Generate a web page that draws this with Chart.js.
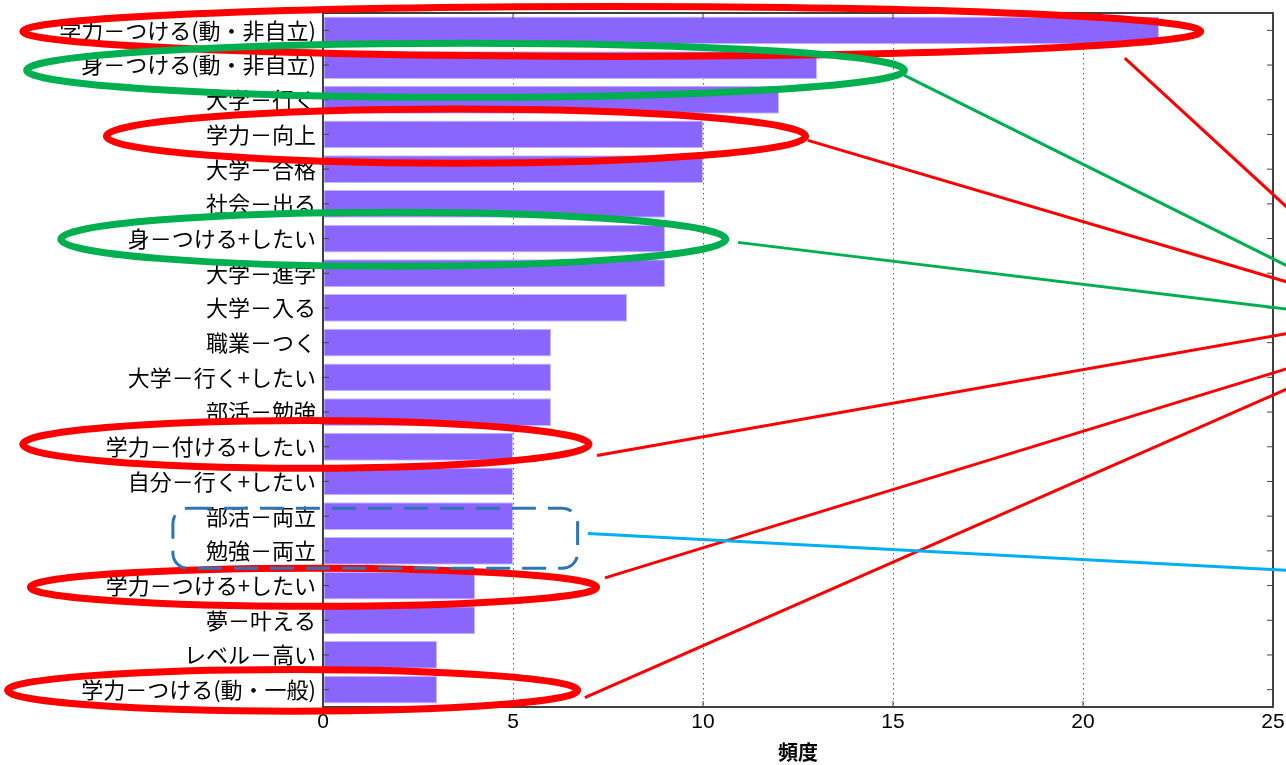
<!DOCTYPE html>
<html>
<head>
    <title>頻度</title>
    <script src="https://cdn.jsdelivr.net/npm/chart.js@4.4.0/dist/chart.umd.min.js"></script>
    <style>
        body {
            margin: 0;
            background-color: white;
        }
        #wrap {
            width: 1286px;
            height: 765px;
        }
    </style>
</head>
<body>
    <div id="wrap">
        <canvas id="freqChart" width="1286" height="765"></canvas>
    </div>

    <script>
        const labels = [
            '学力－つける(動・非自立)',
            '身－つける(動・非自立)',
            '大学－行く',
            '学力－向上',
            '大学－合格',
            '社会－出る',
            '身－つける+したい',
            '大学－進学',
            '大学－入る',
            '職業－つく',
            '大学－行く+したい',
            '部活－勉強',
            '学力－付ける+したい',
            '自分－行く+したい',
            '部活－両立',
            '勉強－両立',
            '学力－つける+したい',
            '夢－叶える',
            'レベル－高い',
            '学力－つける(動・一般)'
        ];
        const counts = [22, 13, 12, 10, 10, 9, 9, 9, 8, 6, 6, 6, 5, 5, 5, 5, 4, 4, 3, 3];
        const xTicks = [0, 5, 10, 15, 20, 25];

        // hand-drawn marks on top of the chart, in axis units (x = 頻度, y = row index)
        const rings = [
            { row: 0, dy: 0.03, from: -7.9, to: 23.1, ry: 0.72, color: '#ff0000' },
            { row: 1, dy: 0.15, from: -7.8, to: 15.3, ry: 0.78, color: '#00b050' },
            { row: 3, dy: 0.05, from: -5.7, to: 12.7, ry: 0.78, color: '#ff0000' },
            { row: 6, dy: 0.02, from: -6.9, to: 10.6, ry: 0.78, color: '#00b050' },
            { row: 12, dy: -0.07, from: -7.9, to: 7.0, ry: 0.69, color: '#ff0000' },
            { row: 16, dy: 0.05, from: -7.7, to: 7.2, ry: 0.55, color: '#ff0000' },
            { row: 19, dy: 0.02, from: -8.3, to: 6.7, ry: 0.6, color: '#ff0000' }
        ];
        const leaders = [
            { x0: 21.1, y0: 0.8, x1: 25.4, y1: 5.13, color: '#ff0000' },
            { x0: 15.3, y0: 1.3, x1: 25.4, y1: 6.8, color: '#00b050' },
            { x0: 12.76, y0: 3.17, x1: 25.4, y1: 7.26, color: '#ff0000' },
            { x0: 10.92, y0: 6.11, x1: 25.4, y1: 8.04, color: '#00b050' },
            { x0: 7.21, y0: 12.25, x1: 25.4, y1: 8.73, color: '#ff0000' },
            { x0: 7.42, y0: 15.78, x1: 25.4, y1: 9.74, color: '#ff0000' },
            { x0: 6.89, y0: 19.23, x1: 25.4, y1: 10.32, color: '#ff0000' },
            { x0: 6.97, y0: 14.5, x1: 25.4, y1: 15.56, color: '#00b0f0' }
        ];
        const dashedBox = { x0: -3.95, x1: 6.7, y0: 13.77, y1: 15.5, color: '#2e75b6' };

        const overlay = {
            id: 'overlay',
            afterDraw(chart) {
                const { ctx, chartArea: a, scales: { x, y } } = chart;
                const line = (x0, y0, x1, y1) => {
                    ctx.beginPath();
                    ctx.moveTo(x0, y0);
                    ctx.lineTo(x1, y1);
                    ctx.stroke();
                };
                ctx.save();

                // frame and inward ticks
                ctx.strokeStyle = '#000';
                ctx.lineWidth = 1.5;
                ctx.strokeRect(a.left, a.top, a.right - a.left, a.bottom - a.top);
                ctx.lineWidth = 1;
                ctx.strokeStyle = '#444';
                x.ticks.forEach((t, i) => {
                    const px = x.getPixelForTick(i);
                    line(px, a.bottom, px, a.bottom - 6);
                    line(px, a.top, px, a.top + 6);
                });
                y.ticks.forEach((t, i) => {
                    const py = y.getPixelForTick(i);
                    line(a.left, py, a.left + 6, py);
                    line(a.right, py, a.right - 6, py);
                });

                // ellipses
                ctx.lineWidth = 7;
                rings.forEach(r => {
                    const xl = x.getPixelForValue(r.from);
                    const xr = x.getPixelForValue(r.to);
                    const cy = y.getPixelForValue(r.row + r.dy);
                    const ry = Math.abs(y.getPixelForValue(r.row + r.ry) - y.getPixelForValue(r.row));
                    ctx.strokeStyle = r.color;
                    ctx.beginPath();
                    ctx.ellipse((xl + xr) / 2, cy, (xr - xl) / 2, ry, 0, 0, Math.PI * 2);
                    ctx.stroke();
                });

                // dashed rounded box
                const bx0 = x.getPixelForValue(dashedBox.x0);
                const bx1 = x.getPixelForValue(dashedBox.x1);
                const by0 = y.getPixelForValue(dashedBox.y0);
                const by1 = y.getPixelForValue(dashedBox.y1);
                ctx.strokeStyle = dashedBox.color;
                ctx.lineWidth = 3;
                ctx.setLineDash([24, 12]);
                ctx.beginPath();
                ctx.roundRect(bx0, by0, bx1 - bx0, by1 - by0, 15);
                ctx.stroke();
                ctx.setLineDash([]);

                // leader lines
                ctx.lineWidth = 3;
                leaders.forEach(l => {
                    ctx.strokeStyle = l.color;
                    line(x.getPixelForValue(l.x0), y.getPixelForValue(l.y0),
                         x.getPixelForValue(l.x1), y.getPixelForValue(l.y1));
                });
                ctx.restore();
            }
        };

        new Chart(document.getElementById('freqChart'), {
            type: 'bar',
            data: {
                labels: labels,
                datasets: [{
                    data: counts,
                    backgroundColor: 'rgb(138, 102, 255)',
                    borderColor: 'rgb(196, 184, 255)',
                    borderWidth: 1,
                    borderSkipped: false,
                    barPercentage: 0.8,
                    categoryPercentage: 1.0
                }]
            },
            options: {
                indexAxis: 'y',
                responsive: false,
                animation: false,
                layout: { padding: { top: 13, right: 13, left: 0, bottom: 0 } },
                plugins: {
                    legend: { display: false },
                    tooltip: { enabled: false }
                },
                scales: {
                    x: {
                        min: 0,
                        max: 25,
                        z: 1,
                        afterBuildTicks: s => { s.ticks = xTicks.map(v => ({ value: v })); },
                        afterFit: s => {
                            s.height = 58;
                            s.paddingLeft = 0;
                            s.paddingRight = 0;
                        },
                        grid: {
                            drawTicks: false,
                            lineWidth: 1,
                            color: c => (c.tick && c.tick.value > 0 && c.tick.value < 25) ? 'rgba(70,70,70,0.85)' : 'rgba(0,0,0,0)'
                        },
                        border: { display: false, dash: [1.5, 3.5] },
                        ticks: {
                            padding: 3,
                            color: '#000',
                            font: { family: 'Liberation Sans', size: 21 }
                        },
                        title: {
                            display: true,
                            text: '頻度',
                            color: '#000',
                            padding: { top: 0, bottom: 1 },
                            font: { family: 'Noto Sans CJK JP', size: 20, weight: 'bold', lineHeight: 1.2 }
                        }
                    },
                    y: {
                        afterFit: s => {
                            s.width = 323;
                            s.paddingTop = 0;
                            s.paddingBottom = 0;
                        },
                        grid: { display: false, drawTicks: false },
                        border: { display: false },
                        ticks: {
                            padding: 7,
                            color: '#000',
                            autoSkip: false,
                            font: { family: 'Noto Sans CJK JP', size: 22 }
                        }
                    }
                }
            },
            plugins: [overlay]
        });
    </script>
</body>
</html>
